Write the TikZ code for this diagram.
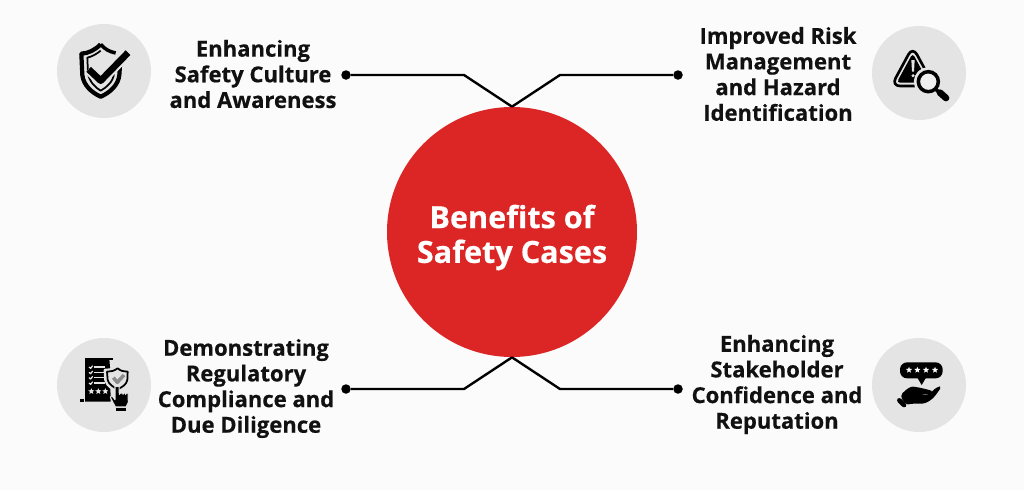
\documentclass[tikz,border=0pt]{standalone}
\usepackage{xcolor}
\usepackage{fontspec}
\usepackage{tikz}
\usetikzlibrary{shapes.geometric}
\setmainfont[BoldFeatures={FakeBold=0.4}]{Open Sans}
\definecolor{pagegray}{HTML}{FBFBFB}
\definecolor{iconbg}{HTML}{E4E4E4}
\definecolor{hubred}{HTML}{DC2626}
\definecolor{inkblack}{HTML}{111111}

\begin{document}
\begin{tikzpicture}[
				hub/.style={
					circle,
					fill=hubred,
					inner sep=0pt,
					minimum size=5cm
				},
				hubtitle/.style={
					text=white,
					align=center,
					inner sep=0pt,
					font=\fontsize{17.4}{19.8}\bfseries\selectfont
				},
				benefit/.style={
					align=center,
					text=inkblack,
					inner sep=0pt,
					font=\fontsize{12.55}{14.6}\bfseries\selectfont
				},
				iconspot/.style={
					circle,
					fill=iconbg,
					inner sep=0pt,
					minimum size=1.88cm
				},
				dot/.style={
					circle,
					fill=black,
					inner sep=0pt,
					minimum size=0.19cm
				},
				edge/.style={
					draw=black,
					line width=1.35pt
				},
				icon/.style={
					x=0.02cm/3,
					y=-0.02cm/3,
					line join=round
				},
				tinystar/.style={
					star,
					star points=5,
					star point ratio=2.3,
					fill=iconbg,
					inner sep=0pt,
					minimum size=0.13cm
				}
			]

				\useasboundingbox[fill=pagegray] (0,0) rectangle (20.48,9.8);

				\node[hub] (hub) at (10.24,5.16) {};
				\node[hubtitle] (title) at (10.24,5.05) {Benefits of\\Safety Cases};

				\node[benefit] (culture) at (5.06,8.32) {Enhancing\\Safety Culture\\and Awareness};
				\node[benefit] (risk) at (15.56,8.32) {Improved Risk\\Management\\and Hazard\\Identification};
				\node[benefit] (comply) at (4.92,2.03) {Demonstrating\\Regulatory\\Compliance and\\Due Diligence};
				\node[benefit] (trust) at (15.54,2.11) {Enhancing\\Stakeholder\\Confidence and\\Reputation};

				\node[iconspot] (shieldspot) at (2.08,8.38) {};
				\node[iconspot] (alertspot) at (18.38,8.34) {};
				\node[iconspot] (auditspot) at (2.08,2.1) {};
				\node[iconspot] (ratingspot) at (18.38,2.1) {};

				\node[dot] (dotA) at (6.92,8.3) {};
				\node[dot] (dotB) at (13.56,8.3) {};
				\node[dot] (dotC) at (6.92,2.02) {};
				\node[dot] (dotD) at (13.56,2.02) {};

				\coordinate (bendA) at (9.28,8.3);
				\coordinate (bendB) at (11.2,8.3);
				\coordinate (bendC) at (9.28,2.02);
				\coordinate (bendD) at (11.2,2.02);

				\draw[edge] (dotA) -- (bendA) -- (hub.north);
				\draw[edge] (dotB) -- (bendB) -- (hub.north);
				\draw[edge] (dotC) -- (bendC) -- (hub.south);
				\draw[edge] (dotD) -- (bendD) -- (hub.south);

				% shield with tick
				\begin{scope}[icon, xshift=1cm, yshift=9.6cm]
					\draw[black, line width=2.4pt]
						(152,103) .. controls (135,120) and (115,130) .. (94,131)
						-- (97,195) .. controls (100,225) and (125,248) .. (152,260)
						.. controls (180,248) and (205,225) .. (208,195) -- (210,165);
					\draw[black, line width=1pt]
						(152,122) .. controls (140,132) and (125,140) .. (112,143)
						-- (114,190) .. controls (118,215) and (135,232) .. (152,242)
						.. controls (170,232) and (190,215) .. (192,190) -- (193,178);
					\draw[black, line width=2pt]
						(152,103) .. controls (165,118) and (178,125) .. (197,129);
					\draw[iconbg, line width=6.2pt] (116,178) -- (152,212) -- (234,128);
					\draw[black, line width=3.8pt] (116,178) -- (152,212) -- (234,128);
				\end{scope}

				% warning triangle with magnifier
				\begin{scope}[icon, xshift=17.2cm, yshift=9.6cm]
					\draw[black, rounded corners=5pt, line width=1.5pt]
						(158,110) -- (94,228) -- (222,228) -- cycle;
					\fill[black, rounded corners=2pt]
						(158,130) -- (110,218) -- (206,218) -- cycle;
					\fill[iconbg] (154,150) -- (164,150) -- (162,185) -- (156,185) -- cycle;
					\fill[iconbg] (159,197) circle (5);
					\filldraw[fill=iconbg, draw=iconbg, line width=2.5pt] (205,215) circle (37);
					\draw[black, line width=2pt, fill=iconbg!60!white] (205,215) circle (30);
					\draw[black, line width=2pt] (228,238) -- (240,250);
					\draw[black, line width=3.8pt, line cap=round] (240,248) -- (258,264);
				\end{scope}

				% audit sheet, shield and pointing hand
				\begin{scope}[icon, xshift=1cm, yshift=3.3cm]
					\fill[black] (105,103) -- (178,103) -- (180,126) -- (182,230) -- (105,230) -- cycle;
					\draw[black, line width=1pt] (105,103) -- (190,103);
					\fill[black] (90,222) rectangle (103,230);
					\foreach \row in {126,142,158,174} {
						\draw[iconbg, line width=.7pt] (117,\row) -- (122,\row+4) -- (128,\row-4);
						\draw[iconbg, line width=.7pt] (133,\row) -- (165,\row);
					}
					\node[tinystar] (starA) at (124,199) {};
					\node[tinystar] (starB) at (145,199) {};
					\node[tinystar] (starC) at (166,199) {};
					\filldraw[draw=iconbg, fill=iconbg, line width=2pt]
						(203,126) .. controls (190,135) and (180,136) .. (166,136)
						-- (168,165) .. controls (172,182) and (190,192) .. (203,196)
						.. controls (218,190) and (234,180) .. (236,165) -- (238,136)
						.. controls (225,136) and (215,134) .. (203,126) -- cycle;
					\draw[black, line width=1pt]
						(203,130) .. controls (192,138) and (182,140) .. (171,140)
						-- (173,165) .. controls (176,178) and (192,188) .. (203,192)
						.. controls (215,188) and (230,178) .. (232,165) -- (233,140)
						.. controls (222,140) and (212,138) .. (203,130) -- cycle;
					\draw[black!45, line width=2pt] (190,158) -- (202,172) -- (222,150);
					\filldraw[draw=iconbg, fill=black, line width=.6pt]
						(195,184) -- (207,184) -- (208,208) -- (212,204) -- (218,204) -- (219,208)
						-- (221,204) -- (226,204) -- (227,208) -- (229,204) -- (234,204)
						-- (235,232) -- (228,246) -- (196,246) -- (181,217) -- (186,212) -- (195,224) -- cycle;
					\fill[black] (198,249) rectangle (227,258);
				\end{scope}

				% rating bubble over open hand
				\begin{scope}[icon, xshift=17.2cm, yshift=3.3cm]
					\fill[black, rounded corners=4pt] (120,112) rectangle (248,160);
					\fill[black] (172,158) -- (198,158) -- (185,180) -- cycle;
					\foreach \i/\xpos in {1/147,2/172,3/198,4/225} {
						\node[tinystar, fill=white!90!iconbg] (rate\i) at (\xpos,135) {};
					}
					\fill[black, rounded corners=2pt]
						(120,212) .. controls (138,194) and (150,184) .. (170,186)
						-- (205,194) .. controls (214,197) and (214,206) .. (205,207)
						-- (172,207) -- (205,210) -- (230,186) .. controls (240,184) and (240,192) .. (234,200)
						.. controls (218,224) and (198,236) .. (175,236)
						-- (150,236) -- (138,240) -- cycle;
					\fill[black, rounded corners=1.5pt] (108,226) -- (118,216) -- (142,240) -- (132,250) -- cycle;
				\end{scope}

			\end{tikzpicture}
\end{document}
